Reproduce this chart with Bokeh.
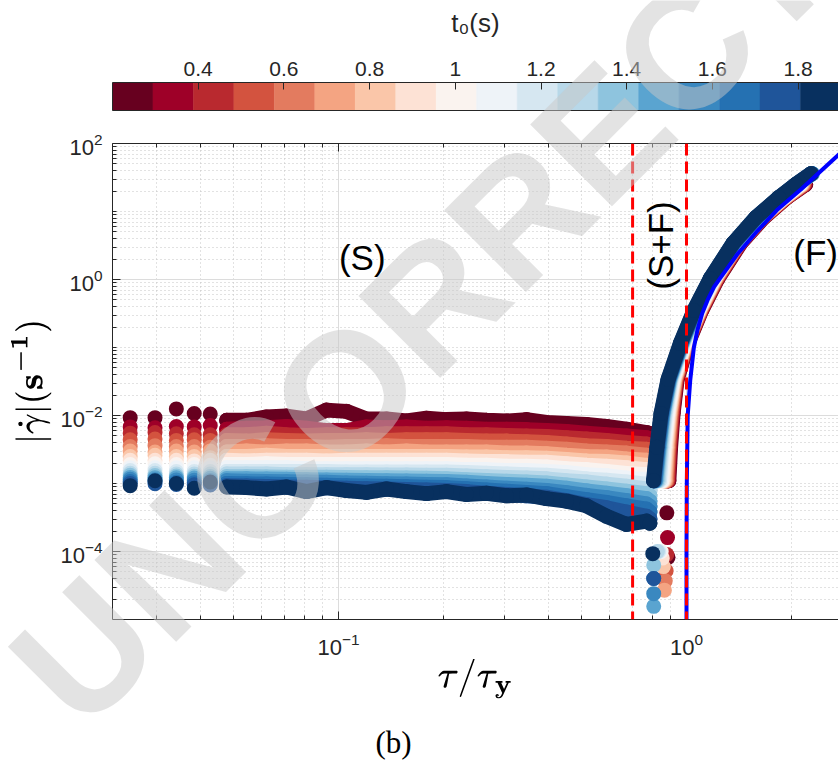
import numpy as np
from bokeh.plotting import figure
from bokeh.models import (Range1d, FixedTicker, LogAxis, LinearAxis, ColumnDataSource,
                          LinearColorMapper, Span, Label)
from bokeh.layouts import column
from bokeh.embed import file_html
from bokeh.resources import INLINE

# ---------------------------------------------------------------- colour scale
t0_low, t0_high = 0.2, 1.9
t0_palette = ["#67001f", "#9e0028", "#b9292f", "#d3533f", "#e37b5f", "#f4a482",
              "#fac6a9", "#fde2d5", "#faf3ef", "#eef3f8", "#d6e7f1", "#b8d8e9",
              "#8ec4de", "#5aa4d0", "#3a88c0", "#2571b2", "#1f559a", "#08305f"]
t0_ticks = [0.4, 0.6, 0.8, 1.0, 1.2, 1.4, 1.6, 1.8]
t0_tick_labels = ["0.4", "0.6", "0.8", "1", "1.2", "1.4", "1.6", "1.8"]

# ---------------------------------------------------------------- measurements
# waiting time of each stress ramp (s)
t0_values = [0.25, 0.34, 0.44, 0.53, 0.62, 0.72, 0.81, 0.91, 1.0,
             1.1, 1.19, 1.29, 1.38, 1.48, 1.57, 1.67, 1.76, 1.85]

# stress ramp positions (tau / tau_y) of the solid-like branch
flat_tau = [0.0252, 0.0297, 0.0342, 0.0385, 0.0428, 0.0477, 0.0544, 0.0621, 0.0709,
            0.0809, 0.0924, 0.1054, 0.1203, 0.1374, 0.1568, 0.179, 0.2043, 0.2332,
            0.2662, 0.3039, 0.3469, 0.396, 0.452, 0.516, 0.589, 0.6724, 0.7675]

# |shear rate| on the solid-like branch, in 1e-3 1/s (one row per t0)
flat_mrate = [
    [9.3, 9.3, 12.5, 10.7, 10.5, 8.5, 8.5, 9.5, 9.8, 8.9, 12.0, 11.5, 8.9, 8.9, 8.3, 9.1, 8.7, 8.9, 8.5, 8.3, 8.7, 7.9, 7.6, 7.4, 6.9, 6.3, 5.6],
    [6.8, 6.6, 6.9, 6.8, 7.1, 6.3, 6.5, 6.6, 6.9, 6.5, 6.0, 6.0, 6.8, 6.6, 6.8, 6.5, 6.6, 6.5, 6.3, 6.3, 6.2, 6.0, 5.8, 5.5, 5.2, 5.0, 4.7],
    [5.5, 5.6, 5.4, 5.2, 5.2, 5.2, 5.2, 5.5, 5.2, 5.1, 5.2, 5.2, 5.2, 5.4, 5.4, 5.4, 5.4, 5.2, 5.2, 5.1, 5.0, 4.9, 4.7, 4.5, 4.3, 4.0, 3.8],
    [4.4, 4.5, 4.3, 4.4, 4.3, 4.3, 4.2, 4.4, 4.3, 4.2, 4.3, 4.3, 4.4, 4.3, 4.4, 4.4, 4.4, 4.3, 4.2, 4.2, 4.1, 4.0, 3.8, 3.6, 3.5, 3.3, 3.2],
    [3.5, 3.6, 3.5, 3.5, 3.4, 3.5, 3.5, 3.6, 3.5, 3.5, 3.4, 3.5, 3.5, 3.6, 3.5, 3.5, 3.5, 3.5, 3.4, 3.4, 3.4, 3.3, 3.2, 3.0, 2.9, 2.8, 2.6],
    [3.0, 2.9, 3.0, 2.9, 3.0, 2.9, 3.0, 2.9, 3.0, 3.0, 2.9, 2.9, 3.0, 2.9, 3.0, 2.9, 2.9, 2.9, 2.9, 2.8, 2.8, 2.75, 2.6, 2.5, 2.45, 2.3, 2.2],
    [2.5, 2.6, 2.5, 2.5, 2.4, 2.5, 2.5, 2.6, 2.5, 2.5, 2.5, 2.5, 2.5, 2.5, 2.5, 2.5, 2.5, 2.45, 2.45, 2.4, 2.4, 2.35, 2.25, 2.15, 2.1, 2.0, 1.85],
    [2.2, 2.2, 2.2, 2.15, 2.2, 2.2, 2.15, 2.2, 2.2, 2.2, 2.15, 2.2, 2.2, 2.2, 2.2, 2.2, 2.2, 2.15, 2.1, 2.1, 2.05, 2.05, 1.95, 1.85, 1.8, 1.7, 1.6],
    [1.9, 1.95, 1.9, 1.9, 1.85, 1.9, 1.9, 1.95, 1.9, 1.9, 1.9, 1.9, 1.9, 1.9, 1.9, 1.9, 1.9, 1.85, 1.85, 1.8, 1.8, 1.75, 1.65, 1.6, 1.5, 1.4, 1.35],
    [1.7, 1.7, 1.7, 1.7, 1.7, 1.7, 1.7, 1.7, 1.7, 1.65, 1.65, 1.65, 1.65, 1.65, 1.65, 1.65, 1.65, 1.6, 1.6, 1.55, 1.55, 1.5, 1.45, 1.35, 1.3, 1.2, 1.15],
    [1.55, 1.55, 1.5, 1.5, 1.5, 1.5, 1.5, 1.5, 1.5, 1.5, 1.5, 1.48, 1.48, 1.48, 1.48, 1.48, 1.48, 1.45, 1.41, 1.38, 1.35, 1.32, 1.26, 1.17, 1.12, 1.05, 0.98],
    [1.41, 1.41, 1.38, 1.38, 1.38, 1.38, 1.38, 1.38, 1.35, 1.35, 1.35, 1.35, 1.35, 1.33, 1.33, 1.32, 1.32, 1.29, 1.26, 1.23, 1.2, 1.17, 1.1, 1.05, 0.98, 0.91, 0.83],
    [1.32, 1.31, 1.29, 1.28, 1.27, 1.26, 1.26, 1.25, 1.24, 1.24, 1.24, 1.23, 1.22, 1.21, 1.2, 1.19, 1.17, 1.14, 1.11, 1.08, 1.05, 1.02, 0.95, 0.89, 0.83, 0.77, 0.71],
    [1.23, 1.22, 1.21, 1.2, 1.19, 1.17, 1.17, 1.16, 1.15, 1.14, 1.13, 1.12, 1.11, 1.1, 1.09, 1.08, 1.07, 1.04, 1.0, 0.97, 0.94, 0.91, 0.85, 0.78, 0.72, 0.66, 0.6],
    [1.15, 1.14, 1.13, 1.12, 1.11, 1.1, 1.08, 1.07, 1.06, 1.05, 1.04, 1.02, 1.01, 0.995, 0.98, 0.97, 0.955, 0.92, 0.89, 0.855, 0.82, 0.79, 0.73, 0.67, 0.62, 0.56, 0.5],
    [1.07, 1.06, 1.04, 1.03, 1.01, 1.0, 0.99, 0.98, 0.97, 0.955, 0.94, 0.93, 0.92, 0.91, 0.895, 0.88, 0.87, 0.835, 0.8, 0.77, 0.74, 0.71, 0.64, 0.58, 0.525, 0.47, 0.42],
    [1.0, 0.99, 0.97, 0.96, 0.95, 0.93, 0.92, 0.905, 0.89, 0.88, 0.865, 0.85, 0.84, 0.83, 0.815, 0.805, 0.79, 0.76, 0.72, 0.69, 0.66, 0.63, 0.56, 0.49, 0.44, 0.38, 0.33],
    [0.93, 1.1, 1.0, 0.85, 1.05, 0.89, 0.87, 0.83, 0.89, 0.76, 0.87, 0.79, 0.74, 0.83, 0.76, 0.71, 0.76, 0.69, 0.72, 0.66, 0.68, 0.6, 0.55, 0.47, 0.33, 0.25, 0.28],
]

# end of the solid-like branch, just before the rate changes sign
tail_tau = [[0.79, 0.815], [0.79, 0.815], [0.79, 0.815], [0.79, 0.815], [0.79, 0.815],
            [0.79, 0.81], [0.79, 0.81], [0.79, 0.805], [0.79, 0.8], [0.785, 0.795],
            [0.785, 0.79], [0.785], [0.785], [0.785], [0.785], [0.785], [0.785], [0.785]]
tail_mrate = [[5.4, 5.2], [4.5, 4.3], [3.6, 3.5], [3.0, 2.9], [2.5, 2.4],
              [2.1, 2.0], [1.8, 1.7], [1.5, 1.45], [1.3, 1.25], [1.1, 1.05],
              [0.93, 0.9], [0.78], [0.66], [0.55], [0.46], [0.38], [0.3], [0.26]]

# minimum of |shear rate| where the rate changes sign (1e-3 1/s)
dip_tau = [[0.878, 0.885], [0.882], [0.878], [0.874], [0.869], [0.864], [0.858], [0.852],
           [0.846], [0.839], [0.832], [0.825], [0.805], [0.805], [0.805], [0.805], [0.805], [0.8]]
dip_mrate = [[0.37, 0.082], [0.16], [0.09], [0.052], [0.037], [0.027], [0.06], [0.08],
             [0.1], [0.1], [0.1], [0.1], [0.063], [0.0156], [0.024], [0.04], [0.04], [0.093]]

# liquid-like branch: stress ratio reached at each shear-rate level (1/s)
rise_rate = [1.1e-3, 3.4e-3, 1.07e-2, 3.4e-2, 0.115, 0.35, 1.03, 3.4, 8.1, 16, 25, 36]
rise_tau = [
    [0.89, 0.9, 0.915, 0.94, 1.01, 1.105, 1.23, 1.43, 1.665, 1.94, 2.2],
    [0.886, 0.896, 0.912, 0.937, 1.007, 1.102, 1.226, 1.425, 1.66, 1.935, 2.19],
    [0.882, 0.892, 0.908, 0.934, 1.004, 1.099, 1.222, 1.42, 1.655, 1.93, 2.18],
    [0.878, 0.888, 0.904, 0.931, 1.001, 1.096, 1.218, 1.415, 1.65, 1.925, 2.17],
    [0.873, 0.884, 0.9, 0.928, 0.998, 1.093, 1.214, 1.41, 1.645, 1.92, 2.16],
    [0.868, 0.879, 0.896, 0.925, 0.995, 1.09, 1.21, 1.405, 1.64, 1.915, 2.15],
    [0.862, 0.874, 0.892, 0.922, 0.992, 1.087, 1.206, 1.4, 1.635, 1.91, 2.14],
    [0.856, 0.868, 0.887, 0.918, 0.989, 1.084, 1.202, 1.395, 1.63, 1.905, 2.13],
    [0.85, 0.862, 0.882, 0.914, 0.986, 1.08, 1.198, 1.39, 1.625, 1.9, 2.12],
    [0.843, 0.856, 0.876, 0.909, 0.982, 1.075, 1.193, 1.385, 1.615, 1.885, 2.11],
    [0.836, 0.85, 0.87, 0.904, 0.978, 1.07, 1.188, 1.38, 1.605, 1.875, 2.1],
    [0.829, 0.844, 0.865, 0.9, 0.975, 1.066, 1.184, 1.375, 1.6, 1.865, 2.09],
    [0.822, 0.839, 0.86, 0.897, 0.972, 1.062, 1.18, 1.37, 1.595, 1.86, 2.08, 2.3],
    [0.816, 0.834, 0.856, 0.894, 0.969, 1.059, 1.178, 1.368, 1.59, 1.855, 2.075, 2.295],
    [0.812, 0.83, 0.853, 0.891, 0.967, 1.056, 1.176, 1.366, 1.588, 1.85, 2.07, 2.29],
    [0.809, 0.827, 0.85, 0.889, 0.965, 1.054, 1.174, 1.364, 1.585, 1.847, 2.067, 2.287],
    [0.806, 0.824, 0.847, 0.887, 0.962, 1.052, 1.172, 1.362, 1.582, 1.843, 2.063, 2.283],
    [0.804, 0.822, 0.845, 0.885, 0.96, 1.05, 1.17, 1.36, 1.58, 1.84, 2.06, 2.28],
]

# flow-curve fit
fit_tau = [1.0, 1.0, 1.002, 1.008, 1.025, 1.05, 1.075, 1.11, 1.15, 1.2, 1.25, 1.4, 1.6, 1.82, 2.13, 2.75]
fit_rate = [1e-5, 1e-4, 1e-3, 1e-2, 3.3e-2, 0.1, 0.18, 0.32, 0.5, 0.78, 1.05, 2.35, 5.2, 10.5, 21, 70]

# regime boundaries (tau / tau_y)
boundary_tau = [0.7, 1.0]

# ---------------------------------------------------------------- styling
AX = "#262626"
FONT = "Liberation Sans"
W = 838
H = 762
LEFT = 112
CB_H = 125
MAIN_H = H - CB_H

mapper = LinearColorMapper(palette=t0_palette, low=t0_low, high=t0_high)
color_of = {"field": "t0", "transform": mapper}

# ---------------------------------------------------------------- colour bar
cb = figure(width=W, height=CB_H, x_range=Range1d(t0_low, t0_low + (W - LEFT) / 428.5),
            y_range=Range1d(0, 1), x_axis_location="above",
            output_backend="svg", toolbar_location=None,
            min_border_left=LEFT, min_border_right=0, min_border_top=82, min_border_bottom=15)
cb.outline_line_color = None
cb.grid.visible = False
cb.background_fill_color = "white"

edges = np.linspace(t0_low, t0_high, len(t0_palette) + 1)
cb_src = ColumnDataSource(dict(left=edges[:-1], right=edges[1:],
                               t0=0.5 * (edges[:-1] + edges[1:])))
cb.quad(left="left", right="right", bottom=0, top=1, source=cb_src,
        fill_color=color_of, line_color=color_of, line_width=0.5)

ax = cb.xaxis[0]
ax.ticker = FixedTicker(ticks=t0_ticks)
ax.major_label_overrides = dict(zip(t0_ticks, t0_tick_labels))
ax.major_tick_in = 7
ax.major_tick_out = 0
ax.minor_tick_in = 0
ax.minor_tick_out = 0
ax.major_tick_line_color = AX
ax.axis_line_color = AX
ax.major_label_text_font = FONT
ax.major_label_text_font_size = "21px"
ax.major_label_text_color = AX
ax.major_label_standoff = 7
ax.axis_label = "t\u2080(s)"
ax.axis_label_text_font = FONT
ax.axis_label_text_font_size = "26px"
ax.axis_label_text_font_style = "normal"
ax.axis_label_text_color = AX
ax.axis_label_standoff = 21

for a in cb.yaxis:
    a.ticker = FixedTicker(ticks=[])
    a.major_tick_in = 0
    a.major_tick_out = 0
    a.minor_tick_in = 0
    a.minor_tick_out = 0
    a.major_label_text_font_size = "10px"
    a.axis_line_color = AX
cb_bottom = LinearAxis(ticker=FixedTicker(ticks=[]), major_tick_in=0, major_tick_out=0,
                       minor_tick_in=0, minor_tick_out=0, major_label_text_font_size="10px",
                       axis_line_color=AX)
cb.add_layout(cb_bottom, "below")

# ---------------------------------------------------------------- main plot
x_lo = 10 ** (-1 - 226 / 348)
x_hi = 10 ** (152 / 348)
p = figure(width=W, height=MAIN_H, x_axis_type="log", y_axis_type="log",
           x_range=Range1d(x_lo, x_hi), y_range=Range1d(1e-5, 1e2),
           output_backend="svg", toolbar_location=None,
           min_border_left=LEFT, min_border_right=0, min_border_top=18, min_border_bottom=143)
p.outline_line_color = None
p.background_fill_color = "white"

x_major = [0.01, 0.1, 1.0, 10.0]
x_minor = [m * 10.0 ** e for e in (-2, -1, 0) for m in range(2, 10)]
y_major = [1e-4, 1e-2, 1.0, 1e2]
y_minor = sorted([m * 10.0 ** e for e in range(-5, 2) for m in range(2, 10)] + [1e-3, 1e-1, 10.0])
x_ticker = FixedTicker(ticks=x_major, minor_ticks=x_minor)
y_ticker = FixedTicker(ticks=y_major, minor_ticks=y_minor)


def style_axis(a):
    a.major_tick_in = 8
    a.major_tick_out = 0
    a.minor_tick_in = 4
    a.minor_tick_out = 0
    a.major_tick_line_color = AX
    a.minor_tick_line_color = AX
    a.axis_line_color = AX
    a.major_label_text_font = FONT
    a.major_label_text_color = AX
    a.major_label_text_font_size = "22px"


xa = p.xaxis[0]
xa.ticker = x_ticker
style_axis(xa)
xa.major_label_standoff = 13
xa.axis_label = r"$$\tau/\tau_{\mathbf{y}}$$"
xa.axis_label_text_font_size = "31px"
xa.axis_label_standoff = 1
xa.axis_label_text_color = "black"

ya = p.yaxis[0]
ya.ticker = y_ticker
style_axis(ya)
ya.major_label_standoff = 10
ya.axis_label = r"$$|\dot{\gamma}|(\mathbf{s^{-1}})$$"
ya.axis_label_text_font_size = "30px"
ya.axis_label_standoff = 6
ya.axis_label_text_color = "black"

# box edge along the top: ticks only, blank labels
top_axis = LogAxis(ticker=x_ticker)
style_axis(top_axis)
top_axis.major_label_overrides = {t: "" for t in x_major}
top_axis.major_label_text_font_size = "2px"
top_axis.major_label_standoff = 0
p.add_layout(top_axis, "above")

for g, t in ((p.xgrid[0], x_ticker), (p.ygrid[0], y_ticker)):
    g.ticker = t
    g.grid_line_color = "#dcdcdc"
    g.grid_line_width = 1
    g.minor_grid_line_color = "#c4c4c4"
    g.minor_grid_line_dash = "1 3"
    g.minor_grid_line_width = 1

# data: each stress ramp, earliest t0 first so that the longest waits sit on top
for k, t0 in enumerate(t0_values):
    band_x = flat_tau[5:] + tail_tau[k]
    band_y = [v * 1e-3 for v in flat_mrate[k][5:] + tail_mrate[k]]
    rx = rise_tau[k]
    ry = rise_rate[:len(rx)]
    p.multi_line(xs="xs", ys="ys",
                 source=ColumnDataSource(dict(xs=[band_x, rx], ys=[band_y, ry], t0=[t0, t0])),
                 line_color=color_of, line_width=15, line_cap="round", line_join="round")
    px = flat_tau + tail_tau[k] + dip_tau[k] + rx
    py = [v * 1e-3 for v in flat_mrate[k] + tail_mrate[k] + dip_mrate[k]] + ry
    p.scatter(x="x", y="y", source=ColumnDataSource(dict(x=px, y=py, t0=[t0] * len(px))),
              marker="circle", size=15, fill_color=color_of, line_color=None)

p.line(fit_tau, fit_rate, line_color="#0000ff", line_width=4)

for b in boundary_tau:
    p.add_layout(Span(location=b, dimension="height", line_color="#ff0000",
                      line_width=3, line_dash="12 6"))

region_style = dict(text_font=FONT, text_font_size="35px", text_color="black",
                    text_align="center", text_baseline="middle")
p.add_layout(Label(x=0.117, y=2.1, text="(S)", **region_style))
p.add_layout(Label(x=0.842, y=3.16, text="(S+F)", angle=90, angle_units="deg", **region_style))
p.add_layout(Label(x=2.35, y=2.5, text="(F)", **region_style))

# ---------------------------------------------------------------- page overlay
# transparent full-page layer (its own root) for the panel tag and the proof stamp
ov = figure(width=W, height=H, x_range=Range1d(0, W), y_range=Range1d(0, H),
            x_axis_location=None, y_axis_location=None,
            output_backend="svg", toolbar_location=None, min_border=0,
            background_fill_alpha=0, border_fill_alpha=0)
ov.outline_line_color = None
ov.grid.visible = False
ov.margin = (-H, 0, 0, 0)
ov.add_layout(Label(x=393, y=H - 742, text="(b)", text_font="Liberation Serif",
                    text_font_size="31px", text_color="black",
                    text_align="center", text_baseline="middle"))
ov.add_layout(Label(x=503, y=H - 232, text="UNCORRECTED", angle=45, angle_units="deg",
                    text_font=FONT, text_font_size="168px", text_font_style="bold",
                    text_color="#c8c8c8", text_alpha=0.5,
                    text_align="center", text_baseline="middle"))

layout = column(cb, p, spacing=0)
open("out.html", "w").write(file_html([layout, ov], INLINE))
